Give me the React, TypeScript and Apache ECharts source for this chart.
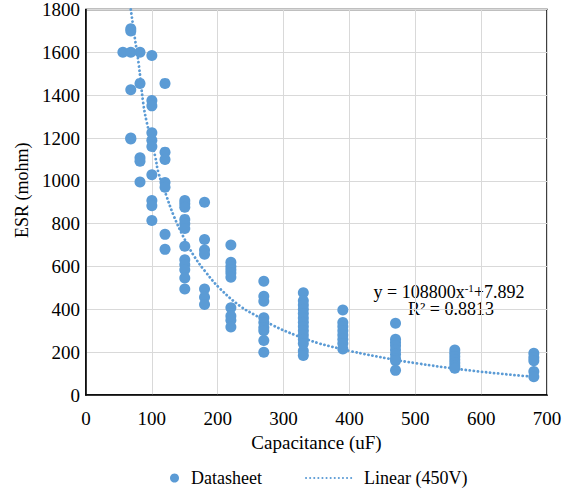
import React, { useEffect, useRef } from "react";
import * as echarts from "echarts";

// Capacitance groups (uF) and the ESR values (mohm) read for each
const caps = [56, 68, 82, 100, 120, 150, 180, 220, 270, 330, 390, 470, 560, 680];
const esr56 = [1600];
const esr68 = [1710, 1700, 1600, 1425, 1200, 1195];
const esr82 = [1600, 1455, 1108, 1092, 995];
const esr100 = [1585, 1375, 1350, 1225, 1190, 1160, 1028, 908, 884, 815];
const esr120 = [1455, 1134, 1100, 992, 970, 750, 680];
const esr150 = [908, 893, 877, 820, 800, 777, 695, 631, 608, 585, 546, 495];
const esr180 = [900, 726, 677, 657, 495, 457, 423];
const esr220 = [700, 620, 600, 585, 570, 550, 407, 369, 349, 318];
const esr270 = [531, 461, 438, 361, 338, 315, 300, 254, 200];
const esr330 = [477, 440, 420, 400, 380, 360, 340, 320, 300, 280, 260, 240, 205, 185];
const esr390 = [397, 338, 320, 300, 280, 260, 240, 215];
const esr470 = [335, 260, 245, 230, 210, 190, 170, 160, 115];
const esr560 = [210, 195, 180, 165, 150, 135, 125];
const esr680 = [195, 175, 160, 110, 85];
const esrGroups = [esr56, esr68, esr82, esr100, esr120, esr150, esr180, esr220, esr270, esr330, esr390, esr470, esr560, esr680];

// Trendline points
const trendX = [68, 74, 80, 87, 92, 105, 110, 122, 133, 148, 163, 181, 204, 234, 259, 284, 320, 355, 381, 401, 462, 502, 568, 654, 686];
const trendY = [1800, 1670, 1546, 1361, 1277, 1115, 1038, 931, 838, 738, 654, 577, 495, 415, 369, 325, 277, 240, 220, 205, 168, 148, 120, 92, 84];

const equationText = "y = 108800x";
const equationSup = "-1";
const equationTail = "+7.892";
const r2Text = "R² = 0.8813";

const FONT = "Liberation Serif";
const BLUE = "#5B9BD5";

export default function App() {
  const ref = useRef<HTMLDivElement>(null);
  useEffect(() => {
    if (!ref.current) return;
    const chart = echarts.init(ref.current, undefined, { renderer: "svg" });
    const scatterData: number[][] = [];
    caps.forEach((c, i) => esrGroups[i].forEach((v) => scatterData.push([c, v])));
    const trendData = trendX.map((x, i) => [x, trendY[i]]);
    chart.setOption({
      animation: false,
      backgroundColor: "#fff",
      grid: {
        left: 86,
        right: 24,
        top: 5,
        bottom: 98,
        show: true,
        borderColor: "#000",
        borderWidth: 1.5,
      },
      xAxis: {
        type: "value",
        min: 0,
        max: 700,
        interval: 100,
        name: "Capacitance (uF)",
        nameLocation: "middle",
        nameGap: 37,
        nameTextStyle: { fontFamily: FONT, fontSize: 19, color: "#000" },
        axisLine: { show: true, lineStyle: { color: "#000", width: 1.5 } },
        axisTick: { show: false },
        axisLabel: {
          fontFamily: FONT,
          fontSize: 19,
          color: "#000",
          margin: 14,
          formatter: (v: number) => String(v),
        },
        splitLine: { show: true, lineStyle: { color: "#d9d9d9", width: 1 } },
      },
      yAxis: {
        type: "value",
        min: 0,
        max: 1800,
        interval: 200,
        name: "ESR (mohm)",
        nameLocation: "middle",
        nameGap: 49,
        nameTextStyle: { fontFamily: FONT, fontSize: 18, color: "#000", padding: [0, 0, 0, 24] },
        axisLine: { show: true, lineStyle: { color: "#000", width: 1.5 } },
        axisTick: { show: false },
        axisLabel: {
          fontFamily: FONT,
          fontSize: 19,
          color: "#000",
          margin: 6,
          padding: [8, 0, 0, 0],
          formatter: (v: number) => String(v),
        },
        splitLine: { show: true, lineStyle: { color: "#d9d9d9", width: 1 } },
      },
      legend: [
        {
          data: [{ name: "Datasheet", icon: "circle" }],
          left: 170,
          top: 469,
          padding: 0,
          itemWidth: 23,
          itemHeight: 9,
          textStyle: { fontFamily: FONT, fontSize: 18, color: "#000" },
        },
        {
          data: ["Linear (450V)"],
          left: 305,
          top: 469,
          padding: 0,
          itemWidth: 47,
          itemHeight: 9,
          itemStyle: { opacity: 0 },
          textStyle: { fontFamily: FONT, fontSize: 18, color: "#000", padding: [0, 0, 0, 6] },
        },
      ],
      series: [
        {
          name: "Datasheet",
          type: "scatter",
          data: scatterData,
          symbol: "circle",
          symbolSize: 11,
          itemStyle: { color: BLUE, opacity: 1 },
          z: 3,
        },
        {
          name: "Linear (450V)",
          type: "line",
          data: trendData,
          smooth: 0.4,
          showSymbol: false,
          symbol: "none",
          clip: true,
          lineStyle: { color: BLUE, width: 2.8, type: [0.1, 4], cap: "round" },
          itemStyle: { color: BLUE },
          z: 2,
        },
      ],
      graphic: [
        {
          type: "text",
          x: 449,
          y: 282,
          style: {
            text: `{a|${equationText}}{s|${equationSup}}{a|${equationTail}}`,
            align: "center",
            rich: {
              a: { fontFamily: FONT, fontSize: 18, fill: "#000", color: "#000", lineHeight: 20 },
              s: { fontFamily: FONT, fontSize: 11, fill: "#000", color: "#000", verticalAlign: "top", lineHeight: 20 },
            },
          },
        },
        {
          type: "text",
          x: 451,
          y: 300,
          style: {
            text: r2Text,
            align: "center",
            fontFamily: FONT,
            fontSize: 18,
            fill: "#000",
          },
        },
      ],
    });
    return () => chart.dispose();
  }, []);
  return <div ref={ref} style={{ position: "absolute", left: 0, top: 0, width: 571, height: 493 }} />;
}
